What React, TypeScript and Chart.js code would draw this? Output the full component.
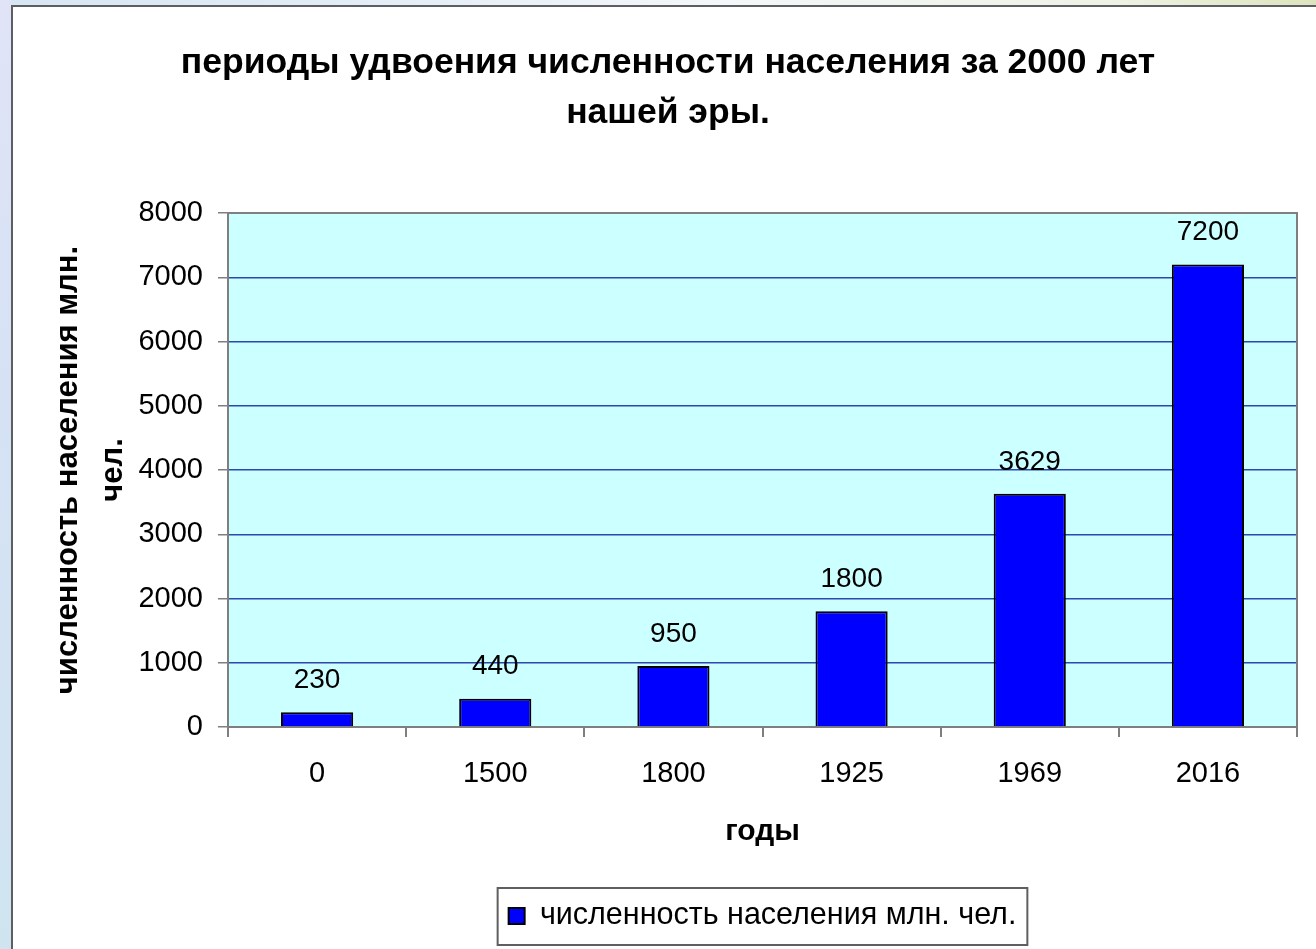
import React, { useEffect, useRef } from "react";
import { Chart, registerables } from "chart.js";

Chart.register(...registerables);

const categories = ["0", "1500", "1800", "1925", "1969", "2016"];
const population = [230, 440, 950, 1800, 3629, 7200];
const seriesLabel = "численность населения млн. чел.";
const chartTitle = ["периоды удвоения численности населения за 2000 лет", "нашей эры."];
const xTitle = "годы";
const yTitle = ["численность населения млн.", "чел."];
const yMin = 0;
const yMax = 8000;
const yStep = 1000;

const FONT = '"Liberation Sans", Arial, sans-serif';
const GRAY = "#7f7f7f";
const GRID = "#2f47b0";

const plotBackground = {
  id: "plotBackground",
  beforeDraw(chart: any) {
    const { ctx, chartArea } = chart;
    ctx.save();
    ctx.fillStyle = "#ccffff";
    ctx.fillRect(chartArea.left, chartArea.top, chartArea.right - chartArea.left, chartArea.bottom - chartArea.top);
    ctx.restore();
  },
  afterDraw(chart: any) {
    const { ctx, chartArea } = chart;
    ctx.save();
    ctx.strokeStyle = GRAY;
    ctx.lineWidth = 2;
    ctx.beginPath();
    ctx.moveTo(chartArea.left, chartArea.top);
    ctx.lineTo(chartArea.right, chartArea.top);
    ctx.lineTo(chartArea.right, chartArea.bottom);
    ctx.stroke();
    const lg = chart.legend;
    if (lg && lg.legendHitBoxes && lg.legendHitBoxes[0]) {
      const hb = lg.legendHitBoxes[0];
      const cy = hb.top + hb.height / 2;
      ctx.strokeStyle = "#5f5f5f";
      ctx.lineWidth = 2;
      ctx.strokeRect(hb.left - 11, cy - 28, hb.width + 22, 57);
    }
    ctx.restore();
  },
};

const valueLabels = {
  id: "valueLabels",
  afterDatasetsDraw(chart: any) {
    const { ctx } = chart;
    const meta = chart.getDatasetMeta(0);
    const data = chart.data.datasets[0].data;
    ctx.save();
    ctx.font = `28px ${FONT}`;
    ctx.fillStyle = "#000";
    ctx.textAlign = "center";
    ctx.textBaseline = "middle";
    meta.data.forEach((el: any, i: number) => {
      ctx.fillText(String(data[i]), el.x, el.y - 32);
    });
    ctx.restore();
  },
};

export default function App() {
  const ref = useRef<HTMLCanvasElement | null>(null);

  useEffect(() => {
    if (!ref.current) return;
    Chart.defaults.font.family = FONT;
    const chart = new Chart(ref.current, {
      type: "bar",
      data: {
        labels: categories,
        datasets: [
          {
            label: seriesLabel,
            data: population,
            backgroundColor: "#0000ff",
            borderColor: "#000000",
            borderWidth: 2,
            barPercentage: 0.405,
            categoryPercentage: 1,
          },
        ],
      },
      options: {
        responsive: false,
        animation: false,
        devicePixelRatio: 1,
        layout: { padding: { left: 26, right: 19, top: 0, bottom: 7.75 } },
        plugins: {
          title: {
            display: true,
            text: chartTitle,
            color: "#000",
            font: { size: 35.5, weight: "bold", lineHeight: 50 / 35.5 },
            padding: { top: 31, bottom: 75 },
          },
          legend: {
            display: true,
            position: "bottom",
            fullSize: false,
            labels: {
              boxWidth: 16,
              boxHeight: 16,
              color: "#000",
              font: { size: 30.5 },
              padding: 10,
            },
          },
          tooltip: { enabled: false },
        },
        scales: {
          x: {
            grid: {
              offset: true,
              drawOnChartArea: false,
              drawTicks: true,
              tickLength: 10,
              color: GRAY,
              tickColor: GRAY,
              lineWidth: 2,
            },
            border: { color: GRAY, width: 2 },
            ticks: { color: "#000", font: { size: 29 }, padding: 19.6 },
            title: {
              display: true,
              text: xTitle,
              color: "#000",
              font: { size: 30, weight: "bold" },
              padding: { top: 0, bottom: 40.75 },
            },
            afterFit: (s: any) => {
              s.height = 163.75;
            },
          },
          y: {
            min: yMin,
            max: yMax,
            ticks: {
              stepSize: yStep,
              color: "#000",
              font: { size: 29 },
              padding: 15,
              callback: (v: any) => String(v),
            },
            grid: {
              color: (c: any) =>
                c.tick && (c.tick.value === yMin || c.tick.value === yMax) ? GRAY : GRID,
              lineWidth: 1.5,
              tickColor: GRAY,
              tickLength: 10,
            },
            border: { color: GRAY, width: 2 },
            title: {
              display: true,
              text: yTitle,
              color: "#000",
              font: { size: 31, weight: "bold", lineHeight: 45 / 31 },
              padding: { top: 6.5, bottom: 0 },
            },
            afterFit: (s: any) => {
              s.width = 189;
            },
          },
        },
      },
      plugins: [plotBackground, valueLabels],
    } as any);
    return () => chart.destroy();
  }, []);

  return (
    <div
      style={{
        position: "fixed",
        left: 0,
        top: 0,
        right: 0,
        bottom: 0,
        overflow: "hidden",
        background:
          "linear-gradient(to right, #d6e6f2 0%, #e2ecf5 25%, #f3f7f9 55%, #eef2e4 85%, #dde4bd 100%)",
      }}
    >
      <div
        style={{
          position: "absolute",
          left: 0,
          top: 0,
          width: 11,
          bottom: 0,
          background: "linear-gradient(to bottom, #e0e4f6 0%, #d6e2f4 40%, #d0e4f0 100%)",
        }}
      />
      <div
        style={{
          position: "absolute",
          left: 11,
          top: 5,
          width: 1330,
          height: 970,
          background: "#ffffff",
          borderLeft: "2px solid #5b5f63",
          borderTop: "2px solid #5b5f63",
        }}
      >
        <canvas
          ref={ref}
          width={1303}
          height={942}
          style={{ position: "absolute", left: 0, top: 0, width: 1303, height: 942 }}
        />
      </div>
    </div>
  );
}
